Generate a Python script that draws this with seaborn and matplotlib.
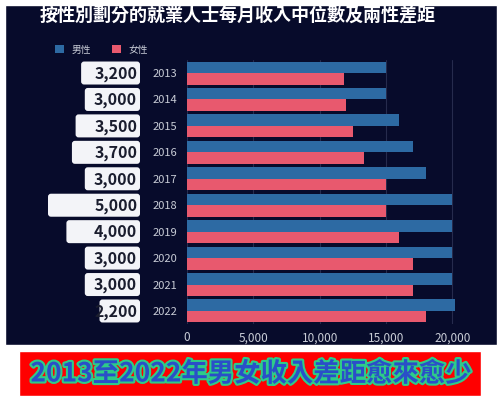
import pandas as pd
import matplotlib.pyplot as plt
import matplotlib.patheffects as pe
from matplotlib.patches import Rectangle, FancyBboxPatch
import seaborn as sns

sns.set_theme(style='dark')
plt.rcParams['font.family'] = ['Noto Sans CJK TC', 'DejaVu Sans']

# data
years = ['2013', '2014', '2015', '2016', '2017', '2018', '2019', '2020', '2021', '2022']
male = [15000, 15000, 16000, 17000, 18000, 20000, 20000, 20000, 20000, 20200]
female = [11800, 12000, 12500, 13300, 15000, 15000, 16000, 17000, 17000, 18000]
gap = [3200, 3000, 3500, 3700, 3000, 5000, 4000, 3000, 3000, 2200]

df = pd.DataFrame({'year': years * 2,
                   'income': male + female,
                   'sex': ['男性'] * len(years) + ['女性'] * len(years)})

navy = '#070b2b'
blue = '#2d6aa3'
pink = '#e8596e'

fig = plt.figure(figsize=(5, 4), dpi=100, facecolor='white')
# dark panel behind the chart
fig.patches.append(Rectangle((5 / 500, 1 - 345 / 400), 492 / 500, 340 / 400,
                             transform=fig.transFigure, facecolor=navy, zorder=-5))
# red banner
fig.patches.append(Rectangle((19 / 500, 1 - 396 / 400), 462 / 500, 45 / 400,
                             transform=fig.transFigure, facecolor='#ff0000', zorder=-5))

ax = fig.add_axes([187 / 500, 1 - 324.2 / 400, (479 - 187) / 500, 264.4 / 400])
ax.set_facecolor('none')
sns.barplot(data=df, y='year', x='income', hue='sex', hue_order=['男性', '女性'],
            palette=[blue, pink], orient='h', width=0.87, ax=ax, saturation=1,
            linewidth=0)
ax.set_xlim(0, 22000)
ax.set_ylim(9.5, -0.5)
ax.set_xticks([0, 5000, 10000, 15000, 20000])
ax.set_xticklabels(['0', '5,000', '10,000', '15,000', '20,000'])
ax.set_xlabel('')
ax.set_ylabel('')
ax.grid(axis='x', color='#262b4d', linewidth=0.8)
ax.grid(axis='y', visible=False)
ax.set_axisbelow(True)
for s in ax.spines.values():
    s.set_visible(False)
ax.tick_params(axis='y', colors='#c8ccd6', labelsize=8, pad=7, length=0)
ax.tick_params(axis='x', colors='#c8ccd6', labelsize=8.5, pad=5, length=0)

sns.move_legend(ax, 'upper left', bbox_to_anchor=(46 / 500, 1 - 36 / 400),
                bbox_transform=fig.transFigure, ncol=2, frameon=False, title=None,
                fontsize=7, handlelength=0.9, handleheight=0.9, columnspacing=2.2,
                handletextpad=0.8, labelcolor='#c8ccd6')

# gap boxes on the left
ax2 = fig.add_axes([40 / 500, 1 - 324.2 / 400, 100 / 500, 264.4 / 400], sharey=ax)
ax2.set_facecolor('none')
bars = ax2.barh(years, gap, height=0.87, color='#f3f4f8')
ax2.set_xlim(5435, 0)
ax2.axis('off')
# round the corners of the boxes
for b in bars:
    x0, y0, w, h = b.get_x(), b.get_y(), b.get_width(), b.get_height()
    b.set_visible(False)
    ax2.add_patch(FancyBboxPatch((x0, y0), w, h,
                                 boxstyle='round,pad=0,rounding_size=160',
                                 mutation_aspect=0.0007, facecolor='#f3f4f8',
                                 edgecolor='none'))
for i, g in enumerate(gap):
    ax2.text(150, i + 0.03, f'{g:,}', ha='right', va='center', fontsize=11.5,
             fontweight='bold', color='#1a1d2e')

fig.text(238 / 500, 1 - 16 / 400, '按性別劃分的就業人士每月收入中位數及兩性差距',
         ha='center', va='center', color='white', fontsize=13, fontweight='bold')

fig.text(251 / 500, 1 - 374 / 400, '2013至2022年男女收入差距愈來愈少',
         ha='center', va='center', color='#2a4fc8', fontsize=19, fontweight='bold',
         path_effects=[pe.withStroke(linewidth=3, foreground='#2ecc88')])

fig.savefig('out.png', dpi=100, facecolor='white')
